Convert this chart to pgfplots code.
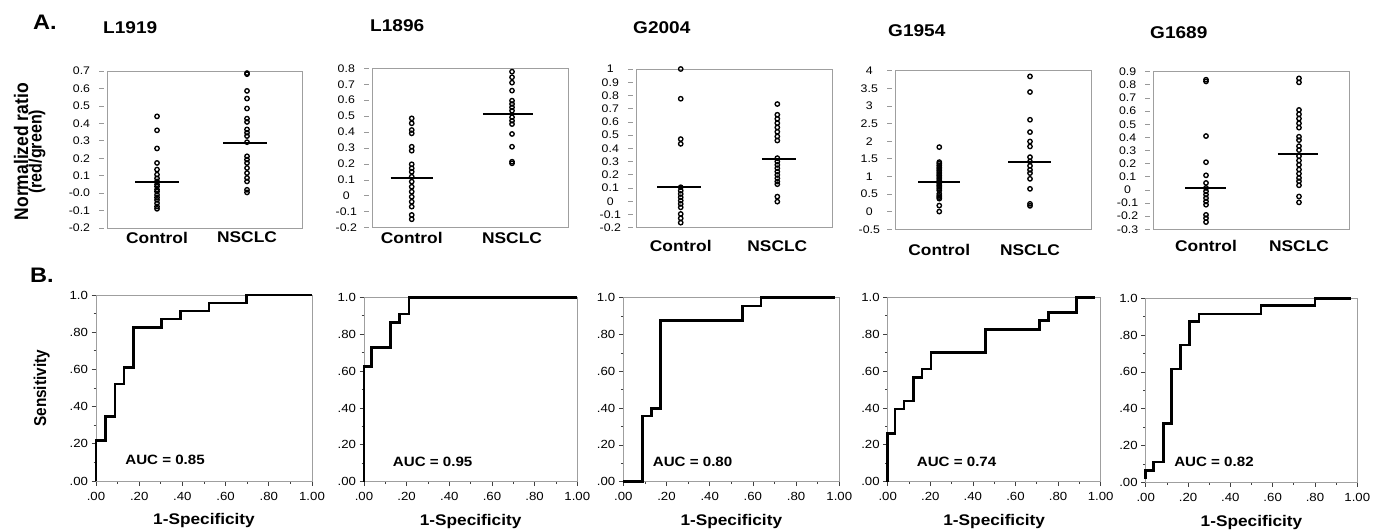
\documentclass[border=0pt]{standalone}
\usepackage{fontspec}
\setmainfont{Liberation Sans}[FakeStretch=1.12]
\newfontfamily\rotfont{Liberation Sans}[FakeStretch=0.893]
\usepackage{pgfplots}
\pgfplotsset{compat=1.18}

\newcommand\fs[1]{\fontsize{#1}{#1}\selectfont}

\tikzset{auc/.style={anchor=west, inner sep=0pt, font=\bfseries\fs{13.5}}}

\pgfplotsset{
  dotplot/.style={
    scale only axis, anchor=north west, clip=false,
    axis line style={gray!75, line width=0.8pt},
    tick align=outside, tick pos=left,
    major x tick style={draw=none},
    ytick style={gray!80, line width=0.7pt, xshift=-3pt},
    major tick length=5pt,
    xtick={1,2}, xticklabels={Control,NSCLC},
    xticklabel style={font=\bfseries\fs{15.5}, anchor=center, inner sep=0pt},
    yticklabel style={font=\fs{11}, text width=25pt, align=center, inner sep=0pt, xshift=-8pt},
  },
  dots/.style={only marks, mark=o, mark size=2.2pt, line width=1.35pt, black},
  meanline/.style={black, line width=2pt},
  roc/.style={
    scale only axis, anchor=north west, clip=false,
    xmin=0, xmax=1, ymin=0, ymax=1,
    axis line style={gray!75, line width=0.8pt},
    tick align=outside, tick pos=left,
    tick style={black!75, line width=0.7pt},
    major tick length=4.5pt, minor tick length=2.5pt,
    xtick={0,0.2,0.4,0.6,0.8,1}, xticklabels={.00,.20,.40,.60,.80,1.00},
    ytick={0,0.2,0.4,0.6,0.8,1}, yticklabels={.00,.20,.40,.60,.80,1.0},
    minor xtick={0.1,0.3,0.5,0.7,0.9}, minor ytick={0.1,0.3,0.5,0.7,0.9},
    ticklabel style={font=\fs{11.8}},
    xticklabel style={yshift=-3pt},
    xlabel={1-Specificity},
    xlabel style={font=\bfseries\fs{15.4}, at={(axis description cs:0.5,0)}, anchor=center, yshift=-40pt},
  },
  rocline/.style={black, line width=2.5pt},
}

\begin{document}
\begin{tikzpicture}
\path[use as bounding box] (0pt,0pt) rectangle (1377pt,-531pt);

% panel labels and titles
\node[anchor=west, inner sep=0pt, font=\bfseries\fs{21}] at (33pt,-22.5pt) {A.};
\node[anchor=west, inner sep=0pt, font=\bfseries\fs{21}] at (30pt,-275pt) {B.};
\node[anchor=west, inner sep=0pt, font=\bfseries\fs{17}] at (103pt,-27.5pt) {L1919};
\node[anchor=west, inner sep=0pt, font=\bfseries\fs{17}] at (370pt,-26pt) {L1896};
\node[anchor=west, inner sep=0pt, font=\bfseries\fs{17}] at (633pt,-27.5pt) {G2004};
\node[anchor=west, inner sep=0pt, font=\bfseries\fs{17}] at (888pt,-30.2pt) {G1954};
\node[anchor=west, inner sep=0pt, font=\bfseries\fs{17}] at (1150pt,-32.5pt) {G1689};
\node[rotate=90, inner sep=0pt, font=\rotfont\bfseries\fs{19.6}] at (21pt,-151.7pt) {Normalized ratio};
\node[rotate=90, inner sep=0pt, font=\rotfont\bfseries\fs{18}] at (37pt,-151.7pt) {(red/green)};
\node[rotate=90, inner sep=0pt, font=\rotfont\bfseries\fs{17.2}] at (41.7pt,-388.3pt) {Sensitivity};

% ---------- A: dot plots ----------
\begin{axis}[dotplot, at={(107pt,-71pt)}, width=195pt, height=157pt,
  xmin=0.444, xmax=2.611, ymin=-0.2, ymax=0.7,
  ytick={-0.2,-0.1,0,0.1,0.2,0.3,0.4,0.5,0.6,0.7},
  yticklabels={-0.2,-0.1,-0.0,0.1,0.2,0.3,0.4,0.5,0.6,0.7},
  yticklabel style={align=right, xshift=-3.7pt},
  xticklabel style={yshift=-4.5pt}]
\addplot[dots] coordinates {(1,0.44)(1,0.36)(1,0.256)(1,0.173)(1,0.135)(1,0.106)(1,0.085)(1,0.067)(1,0.05)(1,0.038)(1,0.02)(1,0.009)(1,-0.01)(1,-0.025)(1,-0.039)(1,-0.058)(1,-0.077)(1,-0.09)};
\addplot[dots] coordinates {(2,0.688)(2,0.682)(2,0.586)(2,0.542)(2,0.485)(2,0.427)(2,0.408)(2,0.365)(2,0.346)(2,0.327)(2,0.292)(2,0.211)(2,0.192)(2,0.173)(2,0.144)(2,0.115)(2,0.087)(2,0.067)(2,0.019)(2,0.004)};
\addplot[meanline] coordinates {(0.756,0.065)(1.244,0.065)};
\addplot[meanline] coordinates {(1.734,0.29)(2.222,0.29)};
\end{axis}

\begin{axis}[dotplot, at={(372pt,-68.3pt)}, width=196pt, height=159.4pt,
  xmin=0.604, xmax=2.558, ymin=-0.2, ymax=0.8,
  ytick={-0.2,-0.1,0,0.1,0.2,0.3,0.4,0.5,0.6,0.7,0.8},
  yticklabels={-0.2,-0.1,0,0.1,0.2,0.3,0.4,0.5,0.6,0.7,0.8},
  xticklabel style={yshift=-5.6pt}]
\addplot[dots] coordinates {(1,0.486)(1,0.455)(1,0.413)(1,0.392)(1,0.308)(1,0.283)(1,0.198)(1,0.173)(1,0.151)(1,0.12)(1,0.089)(1,0.057)(1,0.026)(1,-0.006)(1,-0.037)(1,-0.068)(1,-0.12)(1,-0.147)};
\addplot[dots] coordinates {(2,0.779)(2,0.744)(2,0.71)(2,0.66)(2,0.597)(2,0.576)(2,0.555)(2,0.534)(2,0.493)(2,0.471)(2,0.45)(2,0.388)(2,0.308)(2,0.214)(2,0.204)};
\addplot[meanline] coordinates {(0.79,0.114)(1.21,0.114)};
\addplot[meanline] coordinates {(1.71,0.515)(2.21,0.515)};
\end{axis}

\begin{axis}[dotplot, at={(636pt,-69pt)}, width=196pt, height=158.7pt,
  xmin=0.537, xmax=2.566, ymin=-0.2, ymax=1,
  ytick={-0.2,-0.1,0,0.1,0.2,0.3,0.4,0.5,0.6,0.7,0.8,0.9,1},
  yticklabels={-0.2,-0.1,0,0.1,0.2,0.3,0.4,0.5,0.6,0.7,0.8,0.9,1},
  xticklabel style={yshift=-13.3pt}]
\addplot[dots] coordinates {(1,1.0)(1,0.775)(1,0.47)(1,0.434)(1,0.106)(1,0.08)(1,0.055)(1,0.03)(1,0.005)(1,-0.02)(1,-0.046)(1,-0.096)(1,-0.129)(1,-0.162)};
\addplot[dots] coordinates {(2,0.735)(2,0.654)(2,0.623)(2,0.591)(2,0.558)(2,0.525)(2,0.49)(2,0.459)(2,0.326)(2,0.3)(2,0.275)(2,0.25)(2,0.224)(2,0.199)(2,0.174)(2,0.149)(2,0.129)(2,0.035)(2,-0.003)};
\addplot[meanline] coordinates {(0.755,0.111)(1.211,0.111)};
\addplot[meanline] coordinates {(1.841,0.318)(2.193,0.318)};
\end{axis}

\begin{axis}[dotplot, at={(895pt,-70.7pt)}, width=196.7pt, height=158.6pt,
  xmin=0.512, xmax=2.68, ymin=-0.5, ymax=4,
  ytick={-0.5,0,0.5,1,1.5,2,2.5,3,3.5,4},
  yticklabels={-0.5,0,0.5,1,1.5,2,2.5,3,3.5,4},
  xticklabel style={yshift=-15.5pt}]
\addplot[dots] coordinates {(1,1.832)(1,1.406)(1,1.36)(1,1.31)(1,1.26)(1,1.216)(1,1.17)(1,1.12)(1,1.07)(1,1.026)(1,0.98)(1,0.932)(1,0.88)(1,0.838)(1,0.79)(1,0.742)(1,0.7)(1,0.648)(1,0.6)(1,0.506)(1,0.45)(1,0.412)(1,0.37)(1,0.173)(1,0.003)};
\addplot[dots] coordinates {(2,3.838)(2,3.395)(2,2.608)(2,2.258)(2,1.992)(2,1.85)(2,1.548)(2,1.424)(2,1.301)(2,1.187)(2,1.094)(2,0.932)(2,0.648)(2,0.222)(2,0.165)};
\addplot[meanline] coordinates {(0.768,0.855)(1.232,0.855)};
\addplot[meanline] coordinates {(1.758,1.406)(2.232,1.406)};
\end{axis}

\begin{axis}[dotplot, at={(1153.3pt,-71.7pt)}, width=196pt, height=157.6pt,
  xmin=0.433, xmax=2.541, ymin=-0.3, ymax=0.9,
  ytick={-0.3,-0.2,-0.1,0,0.1,0.2,0.3,0.4,0.5,0.6,0.7,0.8,0.9},
  yticklabels={-0.3,-0.2,-0.1,0,0.1,0.2,0.3,0.4,0.5,0.6,0.7,0.8,0.9},
  xticklabel style={yshift=-12pt}]
\addplot[dots] coordinates {(1,0.839)(1,0.826)(1,0.41)(1,0.211)(1,0.111)(1,0.053)(1,0.015)(1,-0.011)(1,-0.036)(1,-0.062)(1,-0.088)(1,-0.113)(1,-0.19)(1,-0.215)(1,-0.245)};
\addplot[dots] coordinates {(2,0.849)(2,0.819)(2,0.609)(2,0.576)(2,0.543)(2,0.507)(2,0.474)(2,0.405)(2,0.379)(2,0.333)(2,0.303)(2,0.257)(2,0.224)(2,0.191)(2,0.155)(2,0.124)(2,0.091)(2,0.066)(2,0.035)(2,-0.05)(2,-0.095)};
\addplot[meanline] coordinates {(0.775,0.015)(1.215,0.015)};
\addplot[meanline] coordinates {(1.774,0.272)(2.204,0.272)};
\end{axis}

% ---------- B: ROC curves ----------
\begin{axis}[roc, at={(96pt,-295pt)}, width=216pt, height=186pt]
\addplot[rocline] coordinates {(0,0)(0,0.217)(0.043,0.217)(0.043,0.348)(0.087,0.348)(0.087,0.522)(0.13,0.522)(0.13,0.609)(0.174,0.609)(0.174,0.826)(0.304,0.826)(0.304,0.870)(0.391,0.870)(0.391,0.913)(0.522,0.913)(0.522,0.957)(0.696,0.957)(0.696,1)(1,1)};
\node[auc] at (rel axis cs:0.135,0.115) {AUC = 0.85};
\end{axis}

\begin{axis}[roc, at={(364pt,-297.3pt)}, width=213.3pt, height=184.4pt]
\addplot[rocline] coordinates {(0,0)(0,0.625)(0.036,0.625)(0.036,0.727)(0.125,0.727)(0.125,0.864)(0.166,0.864)(0.166,0.91)(0.21,0.91)(0.21,1)(1,1)};
\node[auc] at (rel axis cs:0.135,0.11) {AUC = 0.95};
\end{axis}

\begin{axis}[roc, at={(623.3pt,-297.7pt)}, width=216pt, height=184pt]
\addplot[rocline] coordinates {(0,0)(0.09,0)(0.09,0.357)(0.131,0.357)(0.131,0.398)(0.173,0.398)(0.173,0.875)(0.552,0.875)(0.552,0.955)(0.637,0.955)(0.637,1)(0.98,1)};
\node[auc] at (rel axis cs:0.136,0.11) {AUC = 0.80};
\end{axis}

\begin{axis}[roc, at={(887.7pt,-297.3pt)}, width=213pt, height=184.4pt]
\addplot[rocline] coordinates {(0,0)(0,0.262)(0.034,0.262)(0.034,0.394)(0.077,0.394)(0.077,0.438)(0.12,0.438)(0.12,0.566)(0.161,0.566)(0.161,0.611)(0.203,0.611)(0.203,0.702)(0.46,0.702)(0.46,0.825)(0.712,0.825)(0.712,0.873)(0.754,0.873)(0.754,0.917)(0.887,0.917)(0.887,1)(0.973,1)};
\node[auc] at (rel axis cs:0.136,0.11) {AUC = 0.74};
\end{axis}

\begin{axis}[roc, at={(1145.7pt,-298.3pt)}, width=211.6pt, height=184pt]
\addplot[rocline] coordinates {(0,0.02)(0,0.065)(0.036,0.065)(0.036,0.11)(0.083,0.11)(0.083,0.32)(0.123,0.32)(0.123,0.615)(0.165,0.615)(0.165,0.745)(0.206,0.745)(0.206,0.875)(0.252,0.875)(0.252,0.915)(0.545,0.915)(0.545,0.96)(0.8,0.96)(0.8,1)(0.97,1)};
\node[auc] at (rel axis cs:0.134,0.11) {AUC = 0.82};
\end{axis}
\end{tikzpicture}
\end{document}
